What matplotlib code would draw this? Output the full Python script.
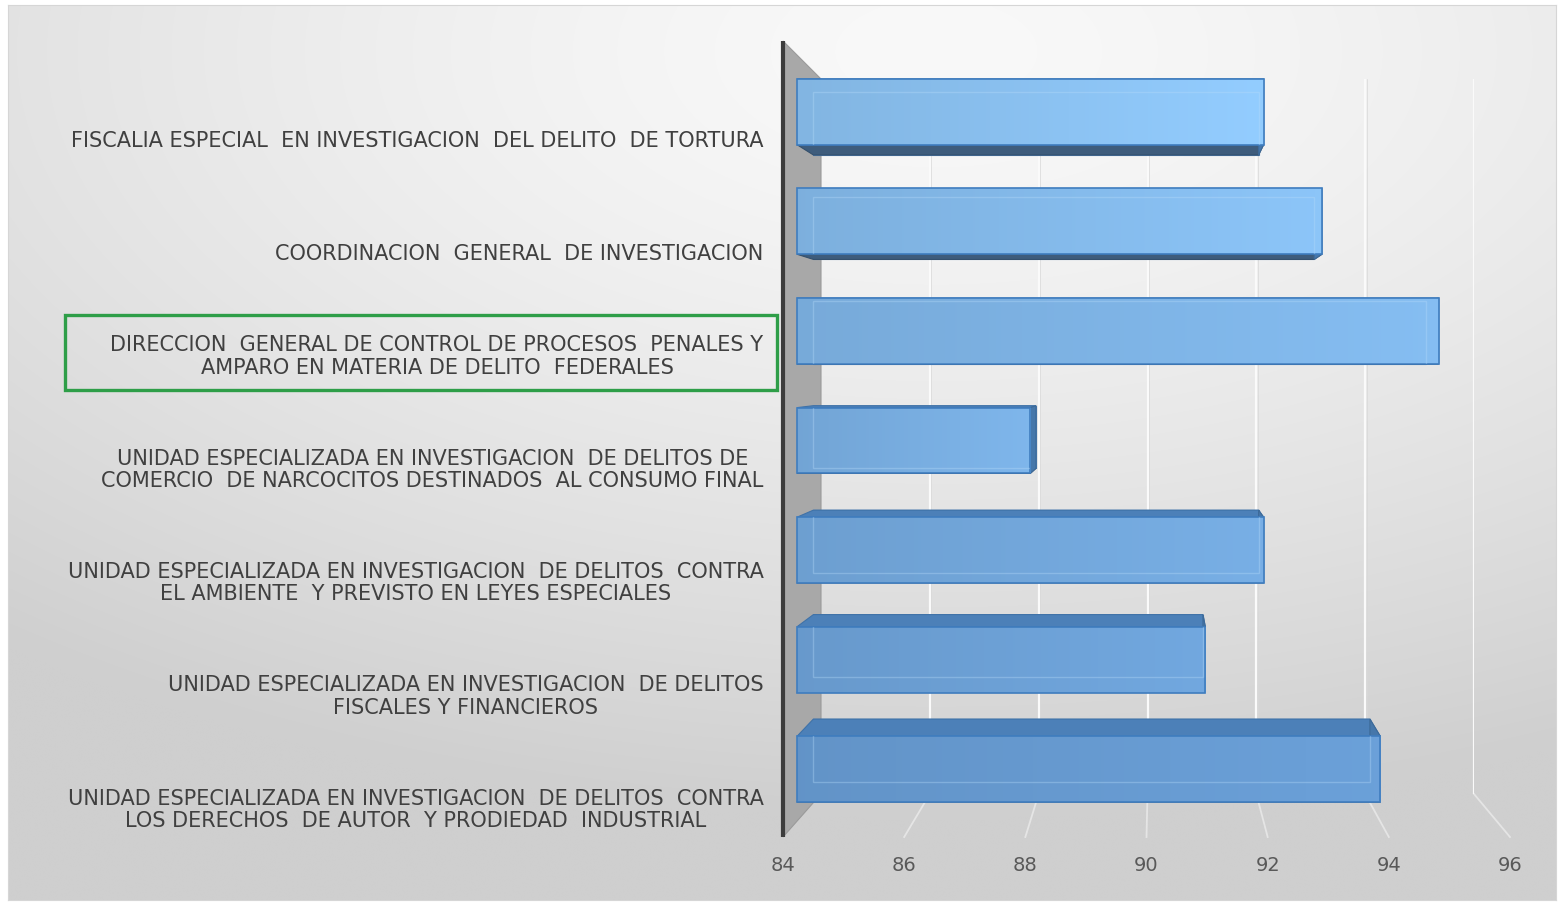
import matplotlib
matplotlib.use("Agg")
import matplotlib.pyplot as plt
import numpy as np
from matplotlib.patches import Polygon, Rectangle
from matplotlib.colors import to_rgb

plt.rcParams['font.family'] = ['DejaVu Sans']

# data, top to bottom as in the chart
categories = [
    "FISCALIA ESPECIAL  EN INVESTIGACION  DEL DELITO  DE TORTURA",
    "COORDINACION  GENERAL  DE INVESTIGACION",
    "DIRECCION  GENERAL DE CONTROL DE PROCESOS  PENALES Y\nAMPARO EN MATERIA DE DELITO  FEDERALES",
    "UNIDAD ESPECIALIZADA EN INVESTIGACION  DE DELITOS DE\nCOMERCIO  DE NARCOCITOS DESTINADOS  AL CONSUMO FINAL",
    "UNIDAD ESPECIALIZADA EN INVESTIGACION  DE DELITOS  CONTRA\nEL AMBIENTE  Y PREVISTO EN LEYES ESPECIALES",
    "UNIDAD ESPECIALIZADA EN INVESTIGACION  DE DELITOS\nFISCALES Y FINANCIEROS",
    "UNIDAD ESPECIALIZADA EN INVESTIGACION  DE DELITOS  CONTRA\nLOS DERECHOS  DE AUTOR  Y PRODIEDAD  INDUSTRIAL",
]
values = [92, 93, 95, 88, 92, 91, 94]
x_ticks = [84, 86, 88, 90, 92, 94, 96]
x_min, x_max = 84, 96
highlight = 2

W, H = 1560, 903
fig = plt.figure(figsize=(W / 100, H / 100), dpi=100)
fig.patch.set_facecolor('white')
n = len(categories)


def box(x0, y0, x1, y1):
    # pixel box (y measured from top) -> figure fraction rect
    return [x0 / W, 1 - y1 / H, (x1 - x0) / W, (y1 - y0) / H]


def plane(t):
    # front and back rectangles of the fake 3D box, t = depth
    front = np.array([783, 42, 1510, 838], float)
    back = np.array([821, 80, 1474, 795], float)
    return box(*(front + (back - front) * t))


def make_ax(rect, z):
    ax = fig.add_axes(rect, zorder=z)
    ax.set_xlim(x_min, x_max)
    ax.set_ylim(n - 0.5, -0.5)
    ax.set_autoscale_on(False)
    ax.patch.set_visible(False)
    for s in ax.spines.values():
        s.set_visible(False)
    ax.set_xticks([])
    ax.set_yticks([])
    return ax


def move(pts, src, dst):
    return dst.transData.inverted().transform(src.transData.transform(pts))


# background with soft radial gradient
ax_bg = fig.add_axes(box(8, 6, 1556, 901), zorder=0)
gy, gx = np.mgrid[0:1:220j, 0:1:380j]
r = np.sqrt(((gx - 0.6) / 1.05) ** 2 + ((gy - 0.05) / 0.95) ** 2)
r = np.clip(r / 0.9, 0, 1)
c0, c1 = np.array(to_rgb('#F9F9F9')), np.array(to_rgb('#CFCFCF'))
ax_bg.imshow(c0 + (c1 - c0) * (r[..., None] ** 1.4), extent=[0, 1, 0, 1],
             aspect='auto', origin='upper', interpolation='bicubic')
ax_bg.set_xticks([])
ax_bg.set_yticks([])
for s in ax_bg.spines.values():
    s.set_color('#D6D6D6')
    s.set_linewidth(0.8)

ax_front = make_ax(plane(0.0), 2)
ax_wall = make_ax(plane(1.0), 1)
ax_back = make_ax(plane(0.8), 2.5)
ax_back.set_axis_off()
ax_bar = make_ax(box(797, 58, 1497, 825), 3)

# back wall gridlines and floor lines
for xv in x_ticks[1:]:
    ax_wall.plot([xv, xv], [-0.5, n - 0.5], color='#FAFAFA', lw=1.6, zorder=1)
    ax_wall.plot([xv + 0.03, xv + 0.03], [-0.5, n - 0.5], color='#D8D8D8', lw=0.5, zorder=1)
    p = move([[xv, n - 0.5]], ax_front, ax_wall)[0]
    ax_wall.plot([xv, p[0]], [n - 0.5, p[1]], color='#F4F4F4', lw=1.3, alpha=0.6,
                 clip_on=False, zorder=1)

# left side wall
wf = move([[x_min, -0.5], [x_min, n - 0.5]], ax_front, ax_wall)
ax_wall.add_patch(Polygon([wf[0], wf[1], [x_min, n - 0.5], [x_min, -0.5]],
                          closed=True, fc='#A8A8A8', ec='#9A9A9A', lw=0.8,
                          clip_on=False, zorder=2))
ax_front.plot([x_min, x_min], [-0.5, n - 0.5], color='#3C3C3C', lw=3,
              clip_on=False, solid_capstyle='butt')

# x tick labels on the front floor edge
ax_front.set_xticks(x_ticks)
ax_front.set_xticklabels([str(v) for v in x_ticks])
ax_front.tick_params(axis='x', length=0, pad=13, labelsize=14, labelcolor='#595959')

# bars as boxes
h = 0.6
top_c, bot_c = np.array(to_rgb('#8CC3F3')), np.array(to_rgb('#6A9FD7'))
for i, v in enumerate(values):
    y0, y1 = i - h / 2, i + h / 2
    f = np.array([[x_min, y0], [v, y0], [v, y1], [x_min, y1]])
    b = move(f, ax_back, ax_bar)
    kw = dict(closed=True, clip_on=False, lw=0.8)
    ax_bar.add_patch(Polygon(b, fc='#5B8CC0', ec='#4A7BB0', zorder=1, **kw))
    ax_bar.add_patch(Polygon([f[0], f[1], b[1], b[0]], fc='#4C80B8', ec='#3F72A8', zorder=2, **kw))
    ax_bar.add_patch(Polygon([f[3], f[2], b[2], b[3]], fc='#3E5C7C', ec='#35506C', zorder=2, **kw))
    ax_bar.add_patch(Polygon([f[1], f[2], b[2], b[1]], fc='#4677AA', ec='#3D6A99', zorder=2, **kw))

    base = top_c + (bot_c - top_c) * i / (n - 1)
    k = np.linspace(0.93, 1.05 - 0.04 * i / (n - 1), 120)[:, None]
    grad = np.clip(base[None, :] * k, 0, 1)[None, :, :]
    rect = Rectangle((x_min, y0), v - x_min, h, fc='none', ec='#3F7DBF', lw=1.2,
                     zorder=4, clip_on=False)
    ax_bar.add_patch(rect)
    im = ax_bar.imshow(grad, extent=[x_min, v, y1, y0], aspect='auto', zorder=3,
                       interpolation='bicubic')
    im.set_clip_path(rect)
    inner = Polygon(b, closed=True, fill=False, ec='#B8DCFA', lw=1.0, alpha=0.35,
                    zorder=5)
    ax_bar.add_patch(inner)
    inner.set_clip_path(rect)

ax_bar.set_xlim(x_min, x_max)
ax_bar.set_ylim(n - 0.5, -0.5)

# category labels: anchored at their bottom, like the original chart
ax_lab = make_ax(box(783, 94, 1510, 888), 4)
ax_lab.set_yticks(range(n))
ax_lab.set_yticklabels(categories)
ax_lab.tick_params(axis='y', length=0, pad=14, labelsize=15, labelcolor='#404040')
for lbl in ax_lab.get_yticklabels():
    lbl.set_multialignment('center')
    lbl.set_linespacing(1.15)
    lbl.set_verticalalignment('bottom')

# green highlight box around one label
fig.canvas.draw()
bb = ax_lab.get_yticklabels()[highlight].get_window_extent()
inv = fig.transFigure.inverted()
(fx0, fy0), (fx1, fy1) = inv.transform([[bb.x0 - 45, bb.y0 - 13], [bb.x1 + 13, bb.y1 + 19]])
fig.add_artist(Rectangle((fx0, fy0), fx1 - fx0, fy1 - fy0, transform=fig.transFigure,
                         fill=False, ec='#2E9E48', lw=2.4, zorder=10))

fig.savefig('out.png', dpi=100)
